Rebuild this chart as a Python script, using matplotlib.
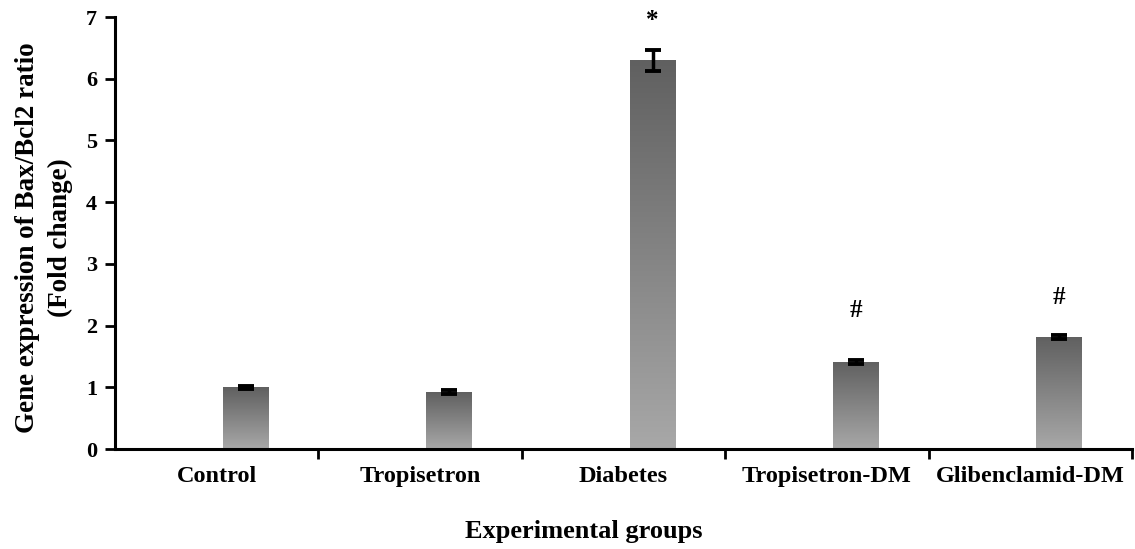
import numpy as np
import matplotlib
matplotlib.use("Agg")
import matplotlib.pyplot as plt
from matplotlib.patches import Rectangle

groups = ["Control", "Tropisetron", "Diabetes", "Tropisetron-DM", "Glibenclamid-DM"]
fold_change = [1.00, 0.92, 6.30, 1.41, 1.82]
errors = [0.02, 0.03, 0.17, 0.03, 0.03]
marks = ["", "", "*", "#", "#"]
mark_heights = [None, None, 6.95, 2.25, 2.45]

plt.rcParams["font.family"] = ["Liberation Serif", "DejaVu Serif"]
plt.rcParams["font.weight"] = "bold"

fig = plt.figure(figsize=(11.35, 5.49), dpi=100)
ax = fig.add_axes([0.1013, 0.1821, 0.8961, 0.7869])

n = len(groups)
bar_w = 0.226
offset = 0.143
ax.set_xlim(0, n)
ax.set_ylim(0, 7)

grad = np.linspace(0, 1, 256).reshape(-1, 1)
cmap = matplotlib.colors.LinearSegmentedColormap.from_list("bar_shade", ["#a8a8a8", "#606060"])
for i, (v, e) in enumerate(zip(fold_change, errors)):
    xc = i + 0.5 + offset
    x0 = xc - bar_w / 2
    rect = Rectangle((x0, 0), bar_w, v, facecolor="none", edgecolor="none")
    ax.add_patch(rect)
    im = ax.imshow(grad, cmap=cmap, extent=[x0, x0 + bar_w, 0, v],
                   origin="lower", aspect="auto", zorder=2)
    im.set_clip_path(rect)
    ax.errorbar(xc, v, yerr=e, fmt="none", ecolor="black",
                elinewidth=2.5, capsize=5.5, capthick=2.8, zorder=3)
    if marks[i]:
        ax.text(xc, mark_heights[i], marks[i], ha="center",
                va="center", fontsize=18, fontweight="bold")

ax.set_xlim(0, n)
ax.set_ylim(0, 7)

for s in ["top", "right"]:
    ax.spines[s].set_visible(False)
for s in ["left", "bottom"]:
    ax.spines[s].set_linewidth(2.2)

ax.set_yticks(range(0, 8))
ax.tick_params(axis="y", direction="out", length=7, width=2, labelsize=16, pad=6)
ax.set_xticks(range(1, n + 1))
ax.set_xticklabels([])
ax.tick_params(axis="x", which="major", direction="out", length=7, width=2)
ax.set_xticks([i + 0.5 for i in range(n)], minor=True)
ax.set_xticklabels(groups, minor=True, fontsize=17.5, fontweight="bold")
ax.tick_params(axis="x", which="minor", length=0, pad=12)
for lab in ax.get_yticklabels():
    lab.set_fontweight("bold")

ax.set_xlabel("Experimental groups", fontsize=19, fontweight="bold", labelpad=28)
ax.xaxis.set_label_coords(0.461, -0.165)
ax.set_ylabel("Gene expression of Bax/Bcl2 ratio\n(Fold change)", fontsize=19.5,
              fontweight="bold", linespacing=1.4)
ax.yaxis.set_label_coords(-0.041, 0.49)

fig.savefig("out.png", dpi=100)
